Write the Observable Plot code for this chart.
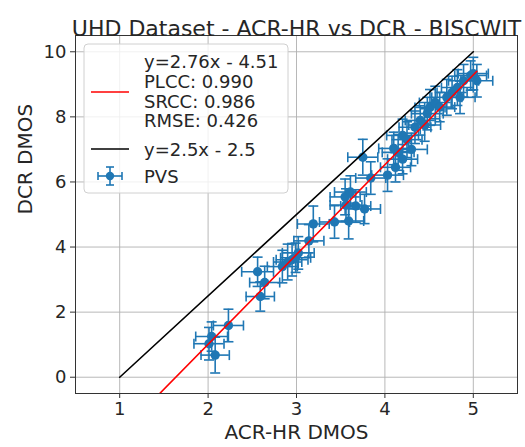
<!DOCTYPE html>
<html><head><meta charset="utf-8">
<script src="https://cdn.jsdelivr.net/npm/d3@7"></script>
<script src="https://cdn.jsdelivr.net/npm/@observablehq/plot@0.6"></script>
<style>body{margin:0;background:#fff;font-family:"DejaVu Sans",sans-serif;} svg{display:block;}</style>
</head><body><div id="chart"></div>
<script>
const title = "UHD Dataset - ACR-HR vs DCR - BISCWIT";
const xLabel = "ACR-HR DMOS";
const yLabel = "DCR DMOS";
const xTicks = [1, 2, 3, 4, 5];
const yTicks = [0, 2, 4, 6, 8, 10];
const acr    = [2.01,2.04,2.08,2.23,2.59,2.64,2.56,2.84,2.90,2.95,2.99,3.02,3.14,3.19,3.43,3.59,3.56,3.67,3.77,3.55,3.61,3.75,3.84,4.03,4.12,4.15,4.10,4.20,4.25,4.34,4.40,4.48,4.51,4.57,4.62,4.45,4.76,4.82,4.89,4.97,5.00,5.04,4.70,4.85,4.30,4.20];
const dcr    = [1.03,1.25,0.68,1.59,2.48,2.91,3.24,3.40,3.54,3.61,3.67,3.82,4.19,4.71,4.77,4.80,5.29,5.26,5.17,5.54,5.69,6.76,6.12,6.21,6.45,6.91,7.03,7.43,7.30,7.68,7.89,8.10,8.29,8.44,8.30,7.75,8.75,8.90,9.11,9.27,9.33,9.11,8.60,8.60,7.00,6.70];
const acrErr = [0.17,0.18,0.16,0.17,0.16,0.17,0.18,0.17,0.16,0.18,0.17,0.18,0.17,0.18,0.17,0.17,0.18,0.17,0.18,0.17,0.18,0.17,0.17,0.18,0.17,0.18,0.17,0.18,0.17,0.18,0.17,0.18,0.17,0.18,0.17,0.18,0.17,0.18,0.17,0.18,0.17,0.18,0.17,0.17,0.18,0.17];
const dcrErr = [0.50,0.45,0.55,0.50,0.45,0.50,0.45,0.50,0.55,0.50,0.45,0.50,0.50,0.55,0.50,0.55,0.50,0.50,0.45,0.55,0.50,0.55,0.50,0.50,0.45,0.55,0.50,0.50,0.55,0.50,0.45,0.50,0.55,0.50,0.45,0.50,0.50,0.55,0.50,0.45,0.50,0.50,0.55,0.50,0.50,0.45];
const fitSlope = 2.76, fitIntercept = -4.51;
const refSlope = 2.5, refIntercept = -2.5;
const fitLabel = ["y=2.76x - 4.51", "PLCC: 0.990", "SRCC: 0.986", "RMSE: 0.426"];
const refLabel = "y=2.5x - 2.5";
const seriesLabel = "PVS";

const blue = "#1f77b4";
const pts = acr.map((x, i) => ({x, y: dcr[i], ex: acrErr[i], ey: dcrErr[i]}));
const fitX = [d3.min(acr) - 1, d3.max(acr)];
const fitLine = fitX.map(x => ({x, y: fitSlope * x + fitIntercept}));
const refX = [xTicks[0], xTicks[xTicks.length - 1]];
const refLine = refX.map(x => ({x, y: refSlope * x + refIntercept}));

const hCap = {draw(ctx, size){ const r = Math.sqrt(size / Math.PI); ctx.moveTo(-r, 0); ctx.lineTo(r, 0); }};
const vCap = {draw(ctx, size){ const r = Math.sqrt(size / Math.PI); ctx.moveTo(0, -r); ctx.lineTo(0, r); }};

function legend(index, scales, values, dim) {
  const g = d3.create("svg:g").attr("font-family", "DejaVu Sans").attr("font-size", 18)
    .attr("fill", "#262626").attr("text-anchor", "start");
  const x0 = dim.marginLeft + 9, y0 = dim.marginTop + 9;
  g.append("rect").attr("x", x0).attr("y", y0).attr("width", 204).attr("height", 149)
    .attr("rx", 4).attr("fill", "white").attr("fill-opacity", 0.8).attr("stroke", "#d0d0d0");
  g.append("line").attr("x1", x0 + 7).attr("x2", x0 + 45).attr("y1", y0 + 48).attr("y2", y0 + 48).attr("stroke", "red").attr("stroke-width", 1.6);
  fitLabel.forEach((t, i) => g.append("text").attr("x", x0 + 60).attr("y", y0 + 18 + i * 19.7).attr("dy", "0.35em").text(t));
  g.append("line").attr("x1", x0 + 7).attr("x2", x0 + 45).attr("y1", y0 + 105).attr("y2", y0 + 105).attr("stroke", "black").attr("stroke-width", 1.6);
  g.append("text").attr("x", x0 + 60).attr("y", y0 + 106).attr("dy", "0.35em").text(refLabel);
  const mx = x0 + 26, my = y0 + 132;
  const e = g.append("g").attr("stroke", blue).attr("stroke-width", 1.6);
  e.append("line").attr("x1", mx - 12).attr("x2", mx + 12).attr("y1", my).attr("y2", my);
  e.append("line").attr("x1", mx).attr("x2", mx).attr("y1", my - 9).attr("y2", my + 9);
  e.append("line").attr("x1", mx - 12).attr("x2", mx - 12).attr("y1", my - 4).attr("y2", my + 4);
  e.append("line").attr("x1", mx + 12).attr("x2", mx + 12).attr("y1", my - 4).attr("y2", my + 4);
  e.append("line").attr("x1", mx - 4).attr("x2", mx + 4).attr("y1", my - 9).attr("y2", my - 9);
  e.append("line").attr("x1", mx - 4).attr("x2", mx + 4).attr("y1", my + 9).attr("y2", my + 9);
  g.append("circle").attr("cx", mx).attr("cy", my).attr("r", 4.2).attr("fill", blue);
  g.append("text").attr("x", x0 + 60).attr("y", my + 1).attr("dy", "0.35em").text(seriesLabel);
  return g.node();
}

const chart = Plot.plot({
  width: 525, height: 447,
  marginLeft: 75, marginRight: 8, marginTop: 35, marginBottom: 54,
  style: {fontFamily: "DejaVu Sans", color: "#262626", background: "white"},
  x: {domain: [0.5, 5.5]},
  y: {domain: [-0.5, 10.5]},
  marks: [
    Plot.gridX(xTicks, {stroke: "#b0b0b0", strokeOpacity: 1, strokeWidth: 0.9}),
    Plot.gridY(yTicks, {stroke: "#b0b0b0", strokeOpacity: 1, strokeWidth: 0.9}),
    Plot.axisX({ticks: xTicks, tickFormat: d3.format("d"), tickSize: 5, tickPadding: 4, fontSize: 18, label: null, stroke: "#333"}),
    Plot.axisY({ticks: yTicks, tickFormat: d3.format("d"), tickSize: 5, tickPadding: 4, fontSize: 18, label: null, stroke: "#333"}),
    Plot.ruleX(pts, {x: "x", y1: d => d.y - d.ey, y2: d => d.y + d.ey, stroke: blue, strokeWidth: 1.6}),
    Plot.ruleY(pts, {y: "y", x1: d => d.x - d.ex, x2: d => d.x + d.ex, stroke: blue, strokeWidth: 1.6}),
    Plot.dot(pts, {x: "x", y: d => d.y + d.ey, symbol: hCap, r: 5, stroke: blue, strokeWidth: 1.6}),
    Plot.dot(pts, {x: "x", y: d => d.y - d.ey, symbol: hCap, r: 5, stroke: blue, strokeWidth: 1.6}),
    Plot.dot(pts, {x: d => d.x - d.ex, y: "y", symbol: vCap, r: 5, stroke: blue, strokeWidth: 1.6}),
    Plot.dot(pts, {x: d => d.x + d.ex, y: "y", symbol: vCap, r: 5, stroke: blue, strokeWidth: 1.6}),
    Plot.dot(pts, {x: "x", y: "y", r: 4.7, fill: blue}),
    Plot.line(fitLine, {x: "x", y: "y", stroke: "red", strokeWidth: 1.6, clip: true}),
    Plot.line(refLine, {x: "x", y: "y", stroke: "black", strokeWidth: 1.6, clip: true}),
    Plot.frame({stroke: "#333", strokeWidth: 1}),
    legend,
    Plot.text([title], {frameAnchor: "top", dy: -15, fontSize: 22, fill: "#262626"}),
    Plot.text([xLabel], {frameAnchor: "bottom", dy: 45, fontSize: 20, fill: "#262626"}),
    Plot.text([yLabel], {frameAnchor: "left", dx: -50, rotate: -90, fontSize: 20, fill: "#262626"})
  ]
});
document.getElementById("chart").append(chart);
</script></body></html>
